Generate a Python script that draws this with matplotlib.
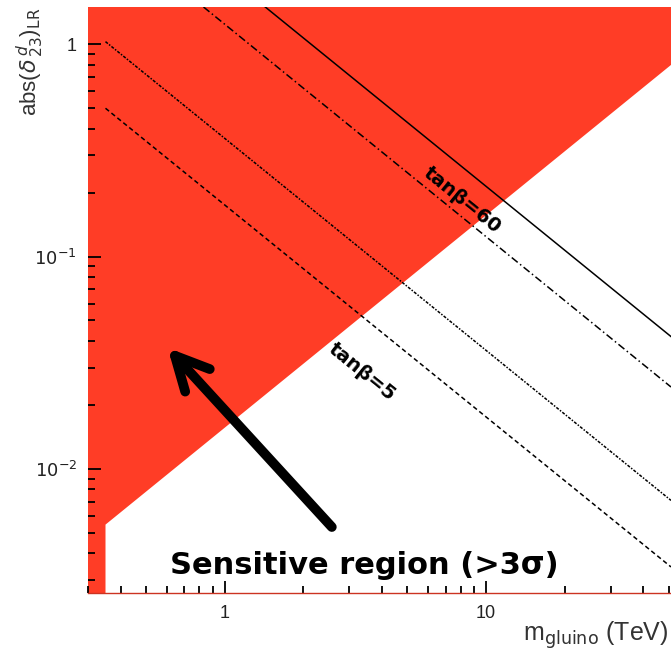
import numpy as np
import matplotlib
matplotlib.use("Agg")
import matplotlib.pyplot as plt

# sensitive (excluded) region boundary in (m_gluino, |delta|) space
region_m = [0.3, 0.35, 0.35, 51.0, 51.0, 0.3]
region_d = [0.0026, 0.0026, 0.00546, 0.80, 1.5, 1.5]

# reach curves for several tan(beta): end points of each line
curve_names = ["tanb60", "tanb35", "tanb10", "tanb5"]
curve_m = [[1.43, 51.0], [0.83, 51.0], [0.35, 51.0], [0.35, 51.0]]
curve_d = [[1.5, 0.042], [1.5, 0.0243], [1.03, 0.0071], [0.50, 0.00345]]
curve_styles = ["-", (0, (5, 2, 1, 2)), (0, (2, 1, 1, 1)), (0, (3, 2))]

xticks = [1, 10]
xticklabels = ["1", "10"]
yticks = [0.01, 0.1, 1]
yticklabels = [r"$10^{-2}$", r"$10^{-1}$", "1"]

red = "#ff3d26"

fig = plt.figure(figsize=(6.71, 6.53), dpi=100)
ax = fig.add_axes([88 / 671, 1 - 593 / 653, 583 / 671, 586 / 653])
ax.set_xscale("log")
ax.set_yscale("log")
ax.set_xlim(0.3, 51)
ax.set_ylim(0.0026, 1.5)

ax.fill(region_m, region_d, color=red, lw=0, zorder=1)

for m, d, ls in zip(curve_m, curve_d, curve_styles):
    ax.plot(m, d, color="black", lw=1.1, ls=ls, zorder=2)

ax.text(8.09, 0.184, "tanβ=60", rotation=-39, ha="center", va="center",
        fontsize=14, fontweight="bold", zorder=3)
ax.text(3.35, 0.0287, "tanβ=5", rotation=-39, ha="center", va="center",
        fontsize=14, fontweight="bold", zorder=3)

ax.text(3.41, 0.0035, "Sensitive region (>3σ)", ha="center", va="center",
        fontsize=22, fontweight="bold", zorder=3)
ax.annotate("", xy=(0.605, 0.0372), xytext=(2.57, 0.00532),
            arrowprops=dict(arrowstyle="->", lw=7, color="black",
                            mutation_scale=60, shrinkA=0, shrinkB=0),
            zorder=3)

ax.set_xticks(xticks)
ax.set_xticklabels(xticklabels)
ax.set_yticks(yticks)
ax.set_yticklabels(yticklabels)
ax.tick_params(which="major", direction="in", length=9, width=1.3,
               labelsize=13, colors="black", pad=9)
ax.tick_params(which="minor", direction="in", length=5, width=1.3)
ax.tick_params(axis="y", pad=8)
for lab in ax.get_xticklabels() + ax.get_yticklabels():
    lab.set_family("Liberation Sans")
    lab.set_color("#222222")

for s in ["top", "right", "left"]:
    ax.spines[s].set_visible(False)
ax.spines["bottom"].set_color("#cc3322")
ax.spines["bottom"].set_linewidth(1.0)

fig.text(0.045, 0.905, r"abs($\delta^{\,d}_{\,23}$)$_{\rm LR}$", rotation=90,
         ha="center", va="center", fontsize=16, family="Liberation Sans",
         color="#333333")
fig.text(0.997, 0.028, r"m$_{\rm gluino}$ (TeV)", ha="right", va="center",
         fontsize=18, family="Liberation Sans", color="#333333")

fig.savefig("out.png", dpi=100)
